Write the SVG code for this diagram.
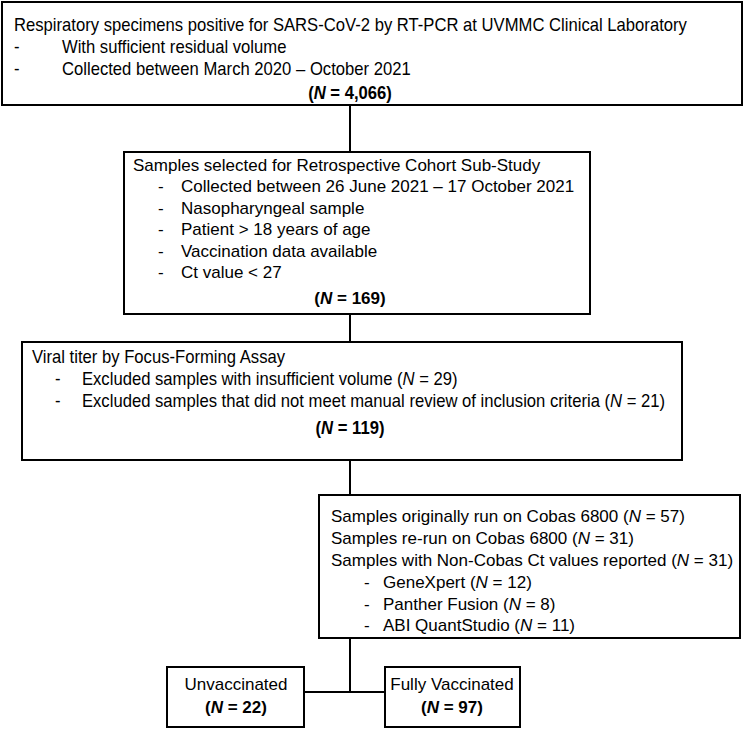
<svg xmlns="http://www.w3.org/2000/svg" width="746" height="729" viewBox="0 0 746 729">
<style>
.box{fill:#fff;stroke:#000;stroke-width:2}
.t{font-family:"Liberation Sans",Arial,sans-serif;font-size:17px;fill:#000}
.n{font-family:"Liberation Sans",Arial,sans-serif;font-size:18px;fill:#000}
.b{font-weight:bold}
.i{font-style:italic}
.c{stroke:#000;stroke-width:2;fill:none}
</style>
<rect width="746" height="729" fill="#fff"/>
<g id="connectors">
<line class="c" x1="350" y1="105" x2="350" y2="152"/>
<line class="c" x1="350" y1="314" x2="350" y2="342"/>
<line class="c" x1="350" y1="460" x2="350" y2="692"/>
<line class="c" x1="304" y1="692" x2="385" y2="692"/>
</g>
<g id="n1">
<rect class="box" x="2" y="2" width="740" height="103"/>
<g transform="scale(0.925,1)">
<text class="n" x="15.1" y="31">Respiratory specimens positive for SARS-CoV-2 by RT-PCR at UVMMC Clinical Laboratory</text>
<text class="n" x="15.1" y="53">-</text>
<text class="n" x="67" y="53">With sufficient residual volume</text>
<text class="n" x="15.1" y="75">-</text>
<text class="n" x="67" y="75">Collected between March 2020 – October 2021</text>
<text class="n b" x="378.4" y="99" text-anchor="middle">(<tspan class="i">N</tspan> = 4,066)</text>
</g>
</g>
<g id="n2">
<rect class="box" x="124" y="152" width="466" height="162"/>
<text class="t" x="133" y="171">Samples selected for Retrospective Cohort Sub-Study</text>
<text class="t" x="158" y="192">-</text><text class="t" x="181" y="192">Collected between 26 June 2021 – 17 October 2021</text>
<text class="t" x="158" y="214">-</text><text class="t" x="181" y="214">Nasopharyngeal sample</text>
<text class="t" x="158" y="235">-</text><text class="t" x="181" y="235">Patient &gt; 18 years of age</text>
<text class="t" x="158" y="257">-</text><text class="t" x="181" y="257">Vaccination data available</text>
<text class="t" x="158" y="278">-</text><text class="t" x="181" y="278">Ct value &lt; 27</text>
<text class="t b" x="350" y="304" text-anchor="middle">(<tspan class="i">N</tspan> = 169)</text>
</g>
<g id="n3">
<rect class="box" x="22" y="342" width="660" height="118"/>
<g transform="scale(0.925,1)">
<text class="n" x="34.6" y="363">Viral titer by Focus-Forming Assay</text>
<text class="n" x="59.5" y="385">-</text>
<text class="n" x="88.6" y="385">Excluded samples with insufficient volume (<tspan class="i">N</tspan> = 29)</text>
<text class="n" x="59.5" y="407">-</text>
<text class="n" x="88.6" y="407">Excluded samples that did not meet manual review of inclusion criteria (<tspan class="i">N</tspan> = 21)</text>
<text class="n b" x="378.4" y="434" text-anchor="middle">(<tspan class="i">N</tspan> = 119)</text>
</g>
</g>
<g id="n4">
<rect class="box" x="319" y="495" width="421" height="143"/>
<text class="t" x="331" y="522">Samples originally run on Cobas 6800 (<tspan class="i">N</tspan> = 57)</text>
<text class="t" x="331" y="544">Samples re-run on Cobas 6800 (<tspan class="i">N</tspan> = 31)</text>
<text class="t" x="331" y="566">Samples with Non-Cobas Ct values reported (<tspan class="i">N</tspan> = 31)</text>
<text class="t" x="364" y="588">-</text><text class="t" x="383" y="588">GeneXpert (<tspan class="i">N</tspan> = 12)</text>
<text class="t" x="364" y="610">-</text><text class="t" x="383" y="610">Panther Fusion (<tspan class="i">N</tspan> = 8)</text>
<text class="t" x="364" y="631">-</text><text class="t" x="383" y="631">ABI QuantStudio (<tspan class="i">N</tspan> = 11)</text>
</g>
<g id="n5">
<rect class="box" x="167" y="667" width="137" height="60"/>
<text class="t" x="236" y="690" text-anchor="middle">Unvaccinated</text>
<text class="t b" x="236" y="713" text-anchor="middle">(<tspan class="i">N</tspan> = 22)</text>
</g>
<g id="n6">
<rect class="box" x="385" y="667" width="135" height="60"/>
<text class="t" x="452" y="690" text-anchor="middle">Fully Vaccinated</text>
<text class="t b" x="452" y="713" text-anchor="middle">(<tspan class="i">N</tspan> = 97)</text>
</g>
</svg>
